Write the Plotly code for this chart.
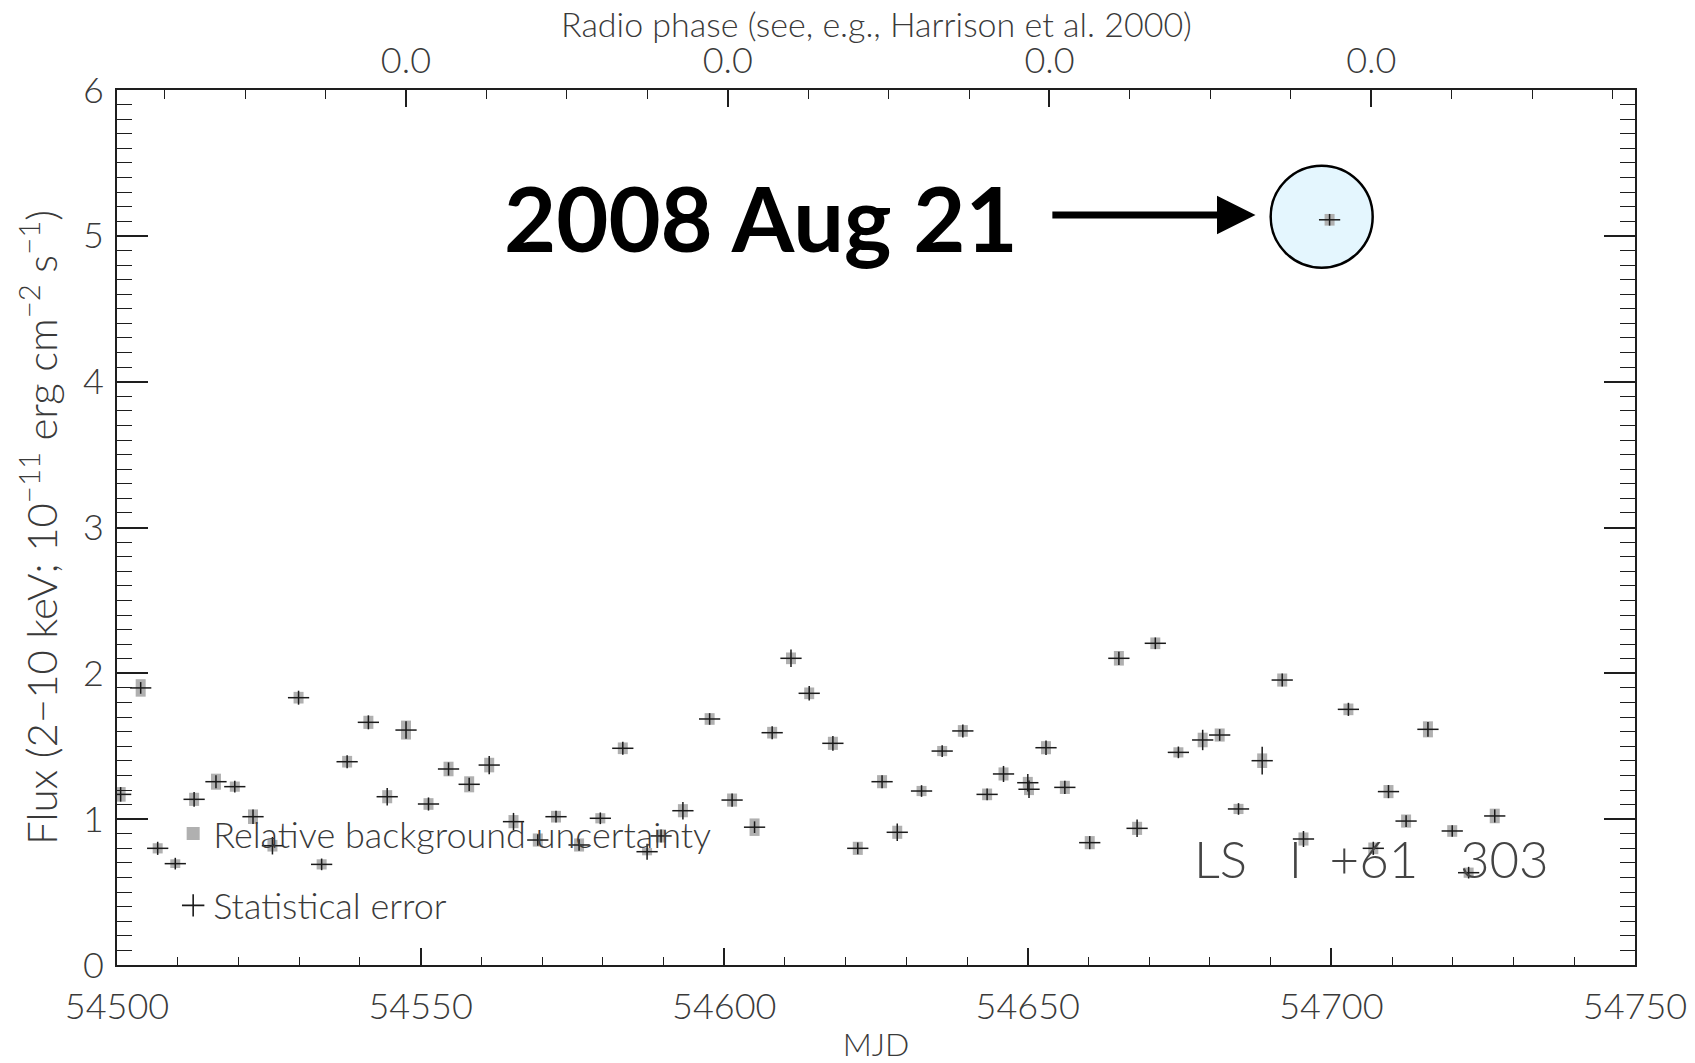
import numpy as np
import plotly.graph_objects as go

# Swift/XRT monitoring of LS I +61 303: 2-10 keV flux per pointing
mjd = [54500.6, 54503.9, 54506.7, 54509.6, 54512.7, 54516.3, 54519.4, 54522.4,
       54525.6, 54529.9, 54533.7, 54537.9, 54541.4, 54544.5, 54547.6, 54551.3,
       54554.6, 54558.0, 54561.3, 54565.3, 54569.3, 54572.3, 54576.1, 54579.6,
       54583.3, 54587.3, 54589.6, 54593.2, 54597.6, 54601.3, 54605.0, 54607.9,
       54611.0, 54614.0, 54617.9, 54622.0, 54626.0, 54628.5, 54632.5, 54635.9,
       54639.3, 54643.3, 54646.0, 54650.0, 54650.2, 54653.0, 54656.1, 54660.2,
       54665.0, 54668.0, 54671.0, 54674.8, 54678.8, 54681.6, 54684.7, 54688.6,
       54691.9, 54695.4, 54699.7, 54702.8, 54706.9, 54709.4, 54712.3, 54715.9,
       54719.9, 54722.6, 54726.9]

flux = [1.17, 1.90, 0.80, 0.695, 1.136, 1.257, 1.223, 1.017,
        0.818, 1.833, 0.690, 1.394, 1.664, 1.154, 1.611, 1.104,
        1.344, 1.239, 1.371, 0.983, 0.857, 1.017, 0.823, 1.006,
        1.486, 0.777, 0.885, 1.058, 1.687, 1.131, 0.945, 1.593,
        2.103, 1.863, 1.520, 0.800, 1.257, 0.910, 1.193, 1.467,
        1.605, 1.170, 1.310, 1.250, 1.205, 1.490, 1.218, 0.839,
        2.103, 0.937, 2.206, 1.458, 1.543, 1.577, 1.070, 1.401,
        1.954, 0.864, 5.11, 1.753, 0.800, 1.189, 0.987, 1.616,
        0.919, 0.633, 1.022]

# 1-sigma statistical error on the flux
stat_err = [0.050, 0.040, 0.045, 0.040, 0.050, 0.045, 0.040, 0.050,
            0.060, 0.048, 0.040, 0.045, 0.048, 0.060, 0.060, 0.045,
            0.045, 0.045, 0.063, 0.060, 0.040, 0.040, 0.040, 0.040,
            0.045, 0.055, 0.045, 0.060, 0.040, 0.045, 0.040, 0.045,
            0.060, 0.050, 0.050, 0.040, 0.045, 0.060, 0.040, 0.040,
            0.045, 0.040, 0.055, 0.060, 0.060, 0.050, 0.045, 0.045,
            0.045, 0.060, 0.040, 0.040, 0.070, 0.040, 0.040, 0.095,
            0.045, 0.055, 0.040, 0.045, 0.045, 0.045, 0.040, 0.050,
            0.040, 0.040, 0.045]

# relative background uncertainty on the flux
bkg_err = [0.050, 0.060, 0.035, 0.030, 0.045, 0.055, 0.035, 0.050,
           0.040, 0.040, 0.035, 0.040, 0.045, 0.045, 0.065, 0.040,
           0.050, 0.055, 0.050, 0.045, 0.045, 0.040, 0.045, 0.035,
           0.040, 0.025, 0.045, 0.045, 0.040, 0.045, 0.060, 0.040,
           0.040, 0.040, 0.045, 0.045, 0.045, 0.045, 0.035, 0.035,
           0.040, 0.040, 0.045, 0.040, 0.040, 0.045, 0.045, 0.045,
           0.050, 0.045, 0.040, 0.035, 0.050, 0.045, 0.035, 0.050,
           0.045, 0.045, 0.040, 0.040, 0.040, 0.045, 0.045, 0.055,
           0.040, 0.035, 0.050]

time_half_width = 1.75  # days

# radio ephemeris (Gregory 2002): phase zero epoch and orbital period
radio_t0 = 43366.275
radio_period = 26.4960

flare_mjd, flare_flux = 54698.4, 5.131

x_range = [54500, 54750]
y_range = [0, 6]

n_first = int(np.ceil((x_range[0] - radio_t0) / radio_period))
n_last = int(np.floor((x_range[1] - radio_t0) / radio_period))
orbits = np.arange(n_first, n_last + 1)
phase_zero = radio_t0 + orbits * radio_period
major_phase = [float(t) for n, t in zip(orbits, phase_zero) if n % 2 == 0]

FONT = "Lato"
TXT = "#3a3a3a"
AX = "#1e1e1e"

fig = go.Figure()

fig.add_trace(go.Scatter(
    x=mjd, y=flux, mode="markers",
    marker=dict(size=1, color="rgba(0,0,0,0)"),
    error_y=dict(type="data", array=bkg_err, color="#b0b0b0", thickness=10, width=0),
    showlegend=False, hoverinfo="skip"))

fig.add_trace(go.Scatter(
    x=mjd, y=flux, mode="markers",
    marker=dict(size=1, color="rgba(0,0,0,0)"),
    error_x=dict(type="constant", value=time_half_width, color="#1a1a1a", thickness=1.5, width=0),
    error_y=dict(type="data", array=stat_err, color="#1a1a1a", thickness=1.5, width=0),
    showlegend=False))

# legend keys (drawn against the radio-phase axis so that axis is built)
fig.add_trace(go.Scatter(
    x=[None], y=[None], xaxis="x2", mode="markers", name="Relative background uncertainty",
    marker=dict(symbol="square", size=13, color="#b0b0b0"), legendgroup="a"))
fig.add_trace(go.Scatter(
    x=[None], y=[None], xaxis="x2", mode="markers", name="Statistical error",
    marker=dict(symbol="cross-thin", size=20, line=dict(width=1.6, color="#1a1a1a")),
    legendgroup="b"))

# highlight of the 2008 Aug 21 flare
fig.add_shape(type="circle", xref="x", yref="y",
              xsizemode="pixel", ysizemode="pixel",
              xanchor=flare_mjd, yanchor=flare_flux,
              x0=-51, x1=51, y0=-51, y1=51,
              fillcolor="#e4f6fe", line=dict(color="black", width=2.5),
              layer="below")

fig.add_annotation(x=54687.5, y=5.143, ax=54653.8, ay=5.143,
                   xref="x", yref="y", axref="x", ayref="y",
                   text="", showarrow=True, arrowhead=2, arrowsize=1.1,
                   arrowwidth=7, arrowcolor="black", standoff=0)

fig.add_annotation(x=54606.1, y=5.13, xref="x", yref="y",
                   text="2008 Aug 21", showarrow=False,
                   font=dict(family=FONT, size=90, color="black", weight=700))

fig.add_annotation(x=54706.6, y=0.727, xref="x", yref="y",
                   text="LS\u00a0\u00a0\u00a0I\u00a0\u00a0+61\u00a0\u00a0\u00a0303", showarrow=False,
                   font=dict(family=FONT, size=51, color="#444444", weight=300))

# title of the radio-phase axis along the top
fig.add_annotation(x=0.5, y=1, xref="paper", yref="paper", yanchor="middle", yshift=67,
                   text="Radio phase (see, e.g., Harrison et al. 2000)", showarrow=False,
                   font=dict(family=FONT, size=34, color=TXT, weight=300))

tick_font = dict(family=FONT, size=36, color=TXT, weight=300)

fig.update_layout(
    template="none",
    width=1695, height=1063, autosize=False,
    margin=dict(l=117, r=60, t=90, b=98, autoexpand=False),
    paper_bgcolor="white", plot_bgcolor="white",
    font=dict(family=FONT, color=TXT, weight=300),
    showlegend=True,
    legend=dict(x=0.037, y=0.109, xanchor="left", yanchor="middle",
                bgcolor="rgba(0,0,0,0)", borderwidth=0,
                font=dict(family=FONT, size=36, color=TXT, weight=300),
                tracegroupgap=22, traceorder="grouped", itemwidth=30),
    xaxis=dict(range=x_range, tick0=54500, dtick=50, tickmode="linear", tickformat="d",
               automargin=False,
               ticks="inside", ticklen=17, tickwidth=1.5, tickcolor=AX,
               minor=dict(dtick=10, ticks="inside", ticklen=8.5, tickwidth=1.3, tickcolor=AX),
               showline=True, linecolor=AX, linewidth=1.6, mirror=True,
               showgrid=False, zeroline=False, tickfont=tick_font,
               ticklabelstandoff=9,
               title=dict(text="MJD", font=dict(family=FONT, size=32, color=TXT, weight=300),
                          standoff=20)),
    xaxis2=dict(range=x_range, overlaying="x", side="top", anchor="y",
                automargin=False,
                tickmode="array", tickvals=major_phase, ticktext=["0.0"] * len(major_phase),
                ticks="inside", ticklen=17, tickwidth=1.5, tickcolor=AX,
                minor=dict(tickmode="linear", tick0=radio_t0, dtick=radio_period / 2,
                           ticks="inside", ticklen=9, tickwidth=1.3, tickcolor=AX),
                showline=False, showgrid=False, zeroline=False, tickfont=tick_font,
                ticklabelstandoff=9),
    yaxis=dict(range=y_range, tick0=0, dtick=1, tickmode="linear",
               automargin=False,
               ticks="inside", ticklen=31, tickwidth=1.5, tickcolor=AX,
               minor=dict(dtick=0.1, ticks="inside", ticklen=15, tickwidth=1.3, tickcolor=AX),
               showline=True, linecolor=AX, linewidth=1.6, mirror="ticks",
               showgrid=False, zeroline=False, tickfont=tick_font,
               ticklabelstandoff=4,
               title=dict(text="Flux (2\u221210 keV; 10<sup>\u221211</sup> erg cm<sup>\u22122</sup> s<sup>\u22121</sup>)",
                          font=dict(family=FONT, size=42, color=TXT, weight=300),
                          standoff=12)),
)

fig.write_html("out.html")
